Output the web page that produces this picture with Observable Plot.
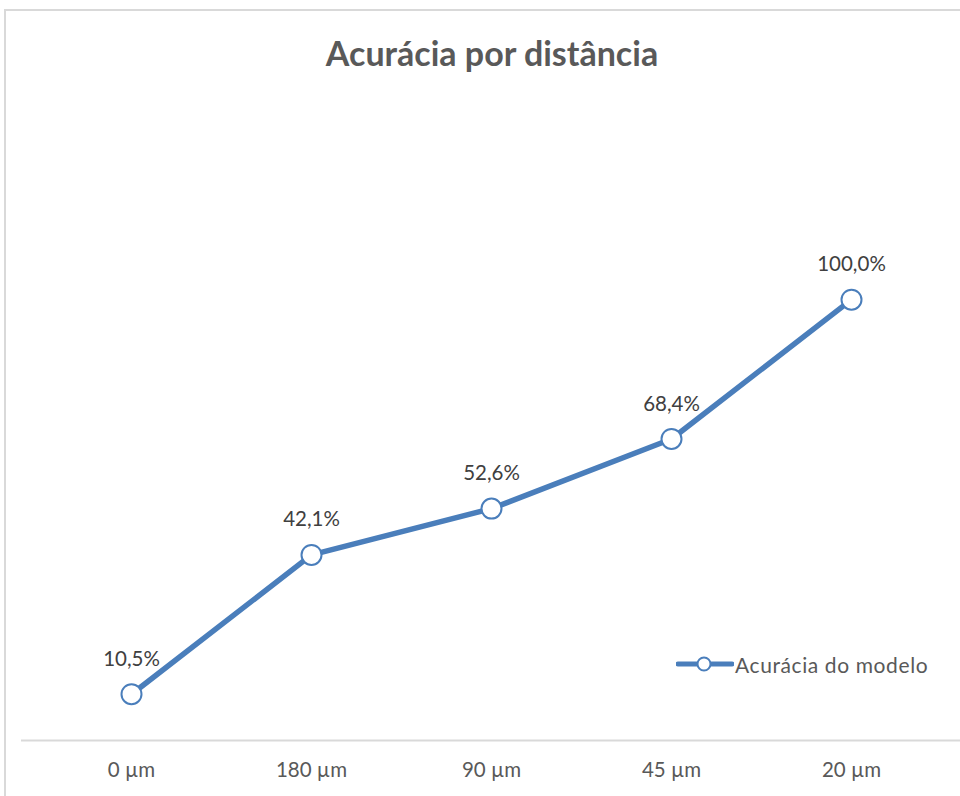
<!DOCTYPE html>
<html><head><meta charset="utf-8">
<script src="https://cdn.jsdelivr.net/npm/d3@7"></script>
<script src="https://cdn.jsdelivr.net/npm/@observablehq/plot@0.6"></script>
<style>
html,body{margin:0;padding:0;background:#fff;}
#wrap{position:relative;width:960px;height:796px;overflow:hidden;font-family:Lato,"Open Sans",sans-serif;}
#frame{position:absolute;left:4px;top:9px;width:1100px;height:1100px;border:2px solid #d9d9d9;box-sizing:border-box;}
#chart{position:absolute;left:0;top:0;}
#legend{position:absolute;left:676px;top:650px;display:flex;align-items:center;font-size:21px;letter-spacing:0.6px;color:#595959;}
</style></head>
<body>
<div id="wrap"><div id="frame"></div><div id="chart"></div>
<div id="legend"><svg width="58" height="28"><line x1="2" y1="14" x2="56" y2="14" stroke="#4a7ebb" stroke-width="5" stroke-linecap="round"/><circle cx="28" cy="14" r="6.5" fill="#fff" stroke="#4a7ebb" stroke-width="2"/></svg><span style="margin-left:1px">Acurácia do modelo</span></div>
</div>
<script>
const categories = ["0 µm", "180 µm", "90 µm", "45 µm", "20 µm"];
const values = [10.5, 42.1, 52.6, 68.4, 100.0];
const labels = ["10,5%", "42,1%", "52,6%", "68,4%", "100,0%"];
const title = "Acurácia por distância";
const data = categories.map((c, i) => ({c, v: values[i], l: labels[i]}));

const chart = Plot.plot({
  width: 960, height: 796,
  marginLeft: 21, marginRight: 0, marginTop: 211, marginBottom: 56,
  style: {fontFamily: "Lato, 'Open Sans', sans-serif", background: "transparent", overflow: "visible"},
  x: {type: "point", domain: categories, padding: 0.594, label: null},
  y: {domain: [0, 120], axis: null},
  marks: [
    Plot.ruleY([0], {stroke: "#d9d9d9", strokeWidth: 2}),
    Plot.axisX({tickSize: 0, tickPadding: 22, fontSize: 20.5, fill: "#595959", label: null}),
    Plot.line(data, {x: "c", y: "v", stroke: "#4a7ebb", strokeWidth: 5.5, strokeLinejoin: "round"}),
    Plot.dot(data, {x: "c", y: "v", r: 10, fill: "#fff", stroke: "#4a7ebb", strokeWidth: 2}),
    Plot.text(data, {x: "c", y: "v", text: "l", dy: -35, fontSize: 20.5, fill: "#404040"}),
    Plot.text([title], {frameAnchor: "top", lineAnchor: "middle", dy: -156, dx: 1, fontSize: 34, fontWeight: "bold", fill: "#595959"})
  ]
});
document.getElementById("chart").appendChild(chart);
</script>
</body></html>
